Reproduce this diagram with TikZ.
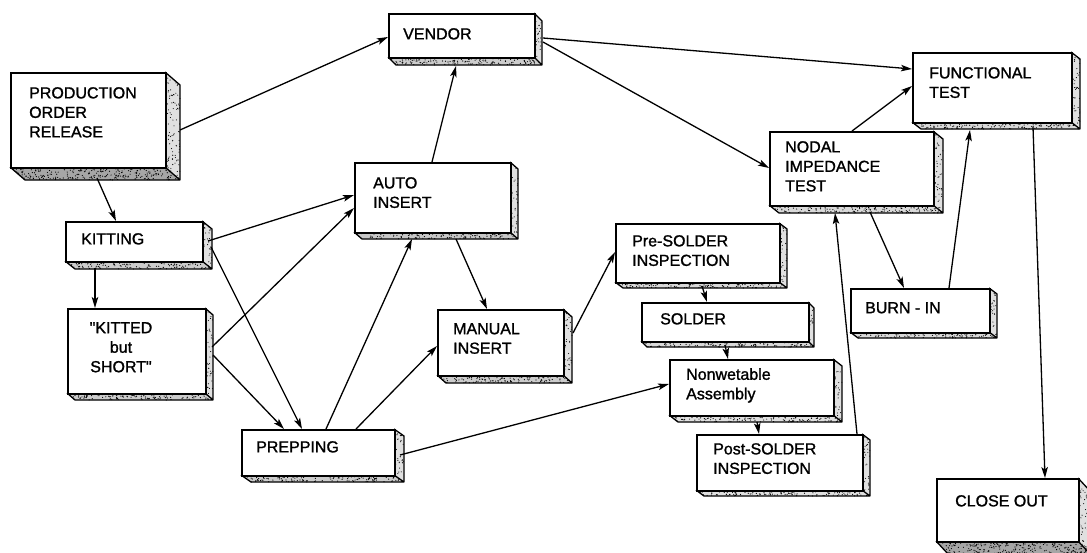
\documentclass[tikz,border=0pt]{standalone}
\usepackage{fontspec}
\setmainfont{Liberation Sans}
\newfontfamily\lblfont{Liberation Sans}[RawFeature={embolden=1.3}]
\usetikzlibrary{arrows.meta}

\tikzset{
  face/.style={draw, line width=1.5pt, fill=white, inner sep=0pt, anchor=north west},
  boxtext/.style={anchor=north west, inner sep=0pt, align=left,
                  font=\lblfont\fontsize{16}{19.5}\selectfont},
  flow/.style={line width=1.3pt, -{Stealth[length=11pt,width=6.5pt,inset=2.5pt]}},
}

% 3-D box: #1 name, (#2,#3) front top-left, (#4,#5) front bottom-right,
% (#6,#7) depth offset, #8 grey of the bottom slab under its stipple
\newcommand{\cuboid}[8]{%
  \fill[black!#8] (#2,#5) -- (#4,#5) -- (#4+#6,#5+#7) -- (#2+#6,#5+#7) -- cycle;
  \fill[black!12] (#4,#3) -- (#4+#6,#3+#7) -- (#4+#6,#5+#7) -- (#4,#5) -- cycle;
  % stipple on the bottom slab
  \pgfmathtruncatemacro{\nbot}{(#4-#2)*#7/7}
  \foreach \k in {1,...,\nbot}{%
    \pgfmathsetmacro{\su}{rnd}\pgfmathsetmacro{\sv}{rnd}%
    \fill ({#2+\su*(#4-#2)+\sv*#6},{#5+\sv*#7}) circle (0.6pt);
  }
  % stipple on the side face
  \pgfmathtruncatemacro{\nside}{(#5-#3)*#6/14}
  \foreach \k in {1,...,\nside}{%
    \pgfmathsetmacro{\su}{rnd}\pgfmathsetmacro{\sv}{rnd}%
    \fill ({#4+\sv*#6},{#3+\sv*#7+\su*(#5-#3)}) circle (0.55pt);
  }
  \draw[line width=1.3pt, line join=round]
    (#2,#5) -- (#2+#6,#5+#7) -- (#4+#6,#5+#7) -- (#4+#6,#3+#7) -- (#4,#3)
    (#4,#5) -- (#4+#6,#5+#7);
  \node[face, minimum width={(#4-#2)*1pt}, minimum height={(#5-#3)*1pt}] (#1) at (#2,#3) {};
}

\begin{document}
\begin{tikzpicture}[x=1pt, y=-1pt]
\useasboundingbox (0,0) rectangle (1087,552);
\pgfmathsetseed{1977}

% boxes
\cuboid{prod}{10}{72}{165}{167}{15}{13}{35}
\cuboid{vendor}{388}{13}{534}{57}{8}{8}{20}
\cuboid{func}{912}{52}{1071}{122}{9}{7}{15}
\cuboid{nodal}{769}{131}{933}{205}{10}{8}{15}
\cuboid{burn}{850}{288}{989}{332}{8}{6}{15}
\cuboid{kitting}{65}{221}{202}{261}{10}{8}{20}
\cuboid{kitted}{67}{308}{205}{393}{8}{7}{20}
\cuboid{auto}{354}{162}{510}{232}{8}{7}{22}
\cuboid{manual}{437}{309}{563}{375}{9}{8}{20}
\cuboid{prep}{241}{429}{394}{475}{10}{7}{20}
\cuboid{pre}{615}{223}{779}{282}{8}{6}{15}
\cuboid{solder}{641}{302}{808}{341}{6}{6}{15}
\cuboid{nonwet}{669}{359}{833}{415}{9}{7}{12}
\cuboid{post}{696}{434}{862}{490}{8}{6}{12}
\cuboid{close}{936}{478}{1078}{541}{12}{13}{35}

% labels
\node[boxtext] (prod-t) at (29,87) {PRODUCTION\\ORDER\\RELEASE};
\node[boxtext] (vendor-t) at (403,28) {VENDOR};
\node[boxtext] (func-t) at (929,67) {FUNCTIONAL\\TEST};
\node[boxtext] (nodal-t) at (785,141) {NODAL\\IMPEDANCE\\TEST};
\node[boxtext] (burn-t) at (865,302) {BURN - IN};
\node[boxtext] (kitting-t) at (81,233) {KITTING};
\node[boxtext, anchor=north, align=center] (kitted-t) at (121,322)
  {\textquotedbl KITTED\\but\\SHORT\textquotedbl};
\node[boxtext] (auto-t) at (373,177) {AUTO\\INSERT};
\node[boxtext] (manual-t) at (453,323) {MANUAL\\INSERT};
\node[boxtext] (prep-t) at (256,441) {PREPPING};
\node[boxtext] (pre-t) at (632,235) {Pre-SOLDER\\INSPECTION};
\node[boxtext] (solder-t) at (660,313) {SOLDER};
\node[boxtext] (nonwet-t) at (686,368) {Nonwetable\\Assembly};
\node[boxtext] (post-t) at (713,443) {Post-SOLDER\\INSPECTION};
\node[boxtext] (close-t) at (955,495) {CLOSE OUT};

% connectors (offsets measured from each box's top-left corner)
\draw[flow] ([shift={(170,58)}]prod.north west) -- ([shift={(0,24)}]vendor.north west);
\draw[flow] ([shift={(87,106)}]prod.north west) -- ([shift={(51,0)}]kitting.north west);
\draw[flow] ([shift={(30,47)}]kitting.north west) -- ([shift={(28,0)}]kitted.north west);
\draw[flow] ([shift={(143,20)}]kitting.north west) -- ([shift={(0,33)}]auto.north west);
\draw[flow] ([shift={(146,26)}]kitting.north west) -- ([shift={(61,0)}]prep.north west);
\draw[flow] ([shift={(145,39)}]kitted.north west) -- ([shift={(0,46)}]auto.north west);
\draw[flow] ([shift={(146,47)}]kitted.north west) -- ([shift={(43,0)}]prep.north west);
\draw[flow] ([shift={(85,0)}]prep.north west) -- ([shift={(58,77)}]auto.north west);
\draw[flow] ([shift={(115,0)}]prep.north west) -- ([shift={(0,37)}]manual.north west);
\draw[flow] ([shift={(78,0)}]auto.north west) -- ([shift={(68,53)}]vendor.north west);
\draw[flow] ([shift={(102,77)}]auto.north west) -- ([shift={(50,0)}]manual.north west);
\draw[flow] ([shift={(136,24)}]manual.north west) -- ([shift={(0,29)}]pre.north west);
\draw[flow] ([shift={(159,26)}]prep.north west) -- ([shift={(0,25)}]nonwet.north west);
\draw[flow] ([shift={(87,63)}]pre.north west) -- ([shift={(66,0)}]solder.north west);
\draw[flow] ([shift={(84,43)}]solder.north west) -- ([shift={(59,0)}]nonwet.north west);
\draw[flow] ([shift={(88,63)}]nonwet.north west) -- ([shift={(63,0)}]post.north west);
\draw[flow] ([shift={(161,0)}]post.north west) -- ([shift={(66,82)}]nodal.north west);
\draw[flow] ([shift={(155,25)}]vendor.north west) -- ([shift={(0,17)}]func.north west);
\draw[flow] ([shift={(155,29)}]vendor.north west) -- ([shift={(0,37)}]nodal.north west);
\draw[flow] ([shift={(83,0)}]nodal.north west) -- ([shift={(0,34)}]func.north west);
\draw[flow] ([shift={(101,81)}]nodal.north west) -- ([shift={(54,0)}]burn.north west);
\draw[flow] ([shift={(99,0)}]burn.north west) -- ([shift={(58,78)}]func.north west);
\draw[flow] ([shift={(121,75)}]func.north west) -- ([shift={(109,0)}]close.north west);
\end{tikzpicture}
\end{document}
